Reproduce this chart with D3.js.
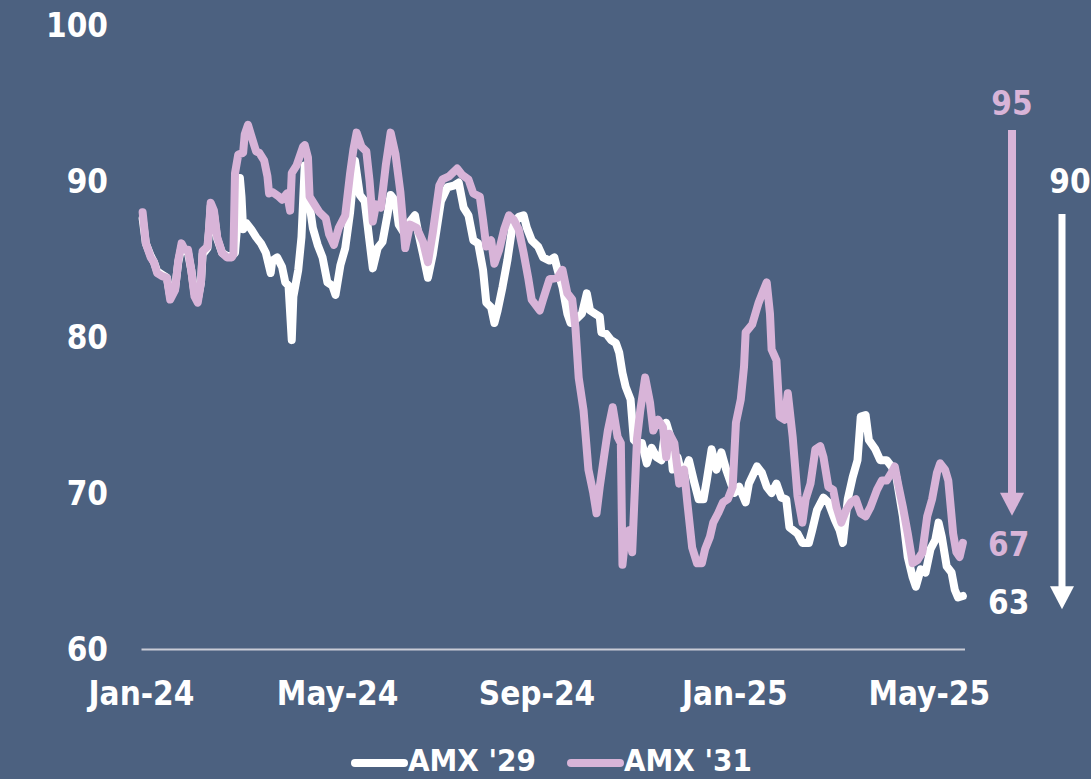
<!DOCTYPE html>
<html>
<head>
<meta charset="utf-8">
<script src="https://cdn.jsdelivr.net/npm/d3@7/dist/d3.min.js"></script>
<style>
  html, body { margin: 0; padding: 0; background: #4c6180; overflow: hidden; }
  svg { display: block; }
  text { font-family: "DejaVu Sans Condensed", "DejaVu Sans", sans-serif; font-weight: bold; }
</style>
</head>
<body>
<svg id="chart" width="1091" height="779"></svg>
<script>
// ---- Data ----------------------------------------------------------
const seriesNames = ["AMX '29", "AMX '31"];

const dates29 = [
  "2024-01-02","2024-01-04","2024-01-07","2024-01-09","2024-01-11","2024-01-14","2024-01-17","2024-01-19","2024-01-22","2024-01-24",
  "2024-01-26","2024-01-28","2024-01-30","2024-02-01","2024-02-03","2024-02-05","2024-02-07","2024-02-08","2024-02-11","2024-02-12",
  "2024-02-13","2024-02-15","2024-02-17","2024-02-20","2024-02-23","2024-02-26","2024-02-28","2024-03-01","2024-03-02","2024-03-03",
  "2024-03-04","2024-03-06","2024-03-09","2024-03-12","2024-03-15","2024-03-18","2024-03-21","2024-03-22","2024-03-25","2024-03-28",
  "2024-03-30","2024-04-01","2024-04-03","2024-04-04","2024-04-07","2024-04-09","2024-04-11","2024-04-13","2024-04-16","2024-04-19",
  "2024-04-22","2024-04-25","2024-04-28","2024-04-30","2024-05-03","2024-05-06","2024-05-09","2024-05-12","2024-05-15","2024-05-18",
  "2024-05-21","2024-05-23","2024-05-26","2024-05-29","2024-06-01","2024-06-03","2024-06-06","2024-06-08","2024-06-11","2024-06-15",
  "2024-06-18","2024-06-20","2024-06-23","2024-06-26","2024-06-29","2024-07-04","2024-07-08","2024-07-12","2024-07-15","2024-07-18",
  "2024-07-21","2024-07-24","2024-07-27","2024-07-30","2024-08-01","2024-08-04","2024-08-06","2024-08-08","2024-08-11","2024-08-14",
  "2024-08-17","2024-08-21","2024-08-24","2024-08-26","2024-08-29","2024-09-02","2024-09-05","2024-09-09","2024-09-12","2024-09-14",
  "2024-09-17","2024-09-20","2024-09-22","2024-09-25","2024-09-29","2024-10-02","2024-10-04","2024-10-07","2024-10-10","2024-10-11",
  "2024-10-14","2024-10-17","2024-10-20","2024-10-22","2024-10-24","2024-10-26","2024-10-29","2024-10-31","2024-11-02","2024-11-05",
  "2024-11-08","2024-11-11","2024-11-14","2024-11-17","2024-11-20","2024-11-22","2024-11-24","2024-11-27","2024-11-30","2024-12-04",
  "2024-12-07","2024-12-10","2024-12-13","2024-12-15","2024-12-18","2024-12-21","2024-12-24","2024-12-27","2025-01-01","2025-01-04",
  "2025-01-08","2025-01-10","2025-01-15","2025-01-18","2025-01-21","2025-01-24","2025-01-27","2025-01-30","2025-02-02","2025-02-04",
  "2025-02-09","2025-02-12","2025-02-16","2025-02-18","2025-02-21","2025-02-25","2025-02-28","2025-03-04","2025-03-07","2025-03-09",
  "2025-03-12","2025-03-15","2025-03-18","2025-03-20","2025-03-23","2025-03-25","2025-03-29","2025-04-01","2025-04-05","2025-04-08",
  "2025-04-11","2025-04-15","2025-04-18","2025-04-21","2025-04-23","2025-04-26","2025-04-29","2025-05-02","2025-05-05","2025-05-07",
  "2025-05-09","2025-05-12","2025-05-15","2025-05-17","2025-05-19","2025-05-22"
];
const values29 = [
  87.6,86.0,85.2,84.8,84.2,84.0,83.8,82.6,83.1,84.8,
  85.8,85.5,85.4,84.3,82.8,82.4,83.5,85.3,85.7,86.8,
  88.4,87.9,86.3,85.4,85.2,85.2,85.4,88.0,90.2,89.0,
  86.9,87.3,86.9,86.4,86.0,85.4,84.1,84.9,85.1,84.5,
  83.5,83.3,79.8,82.6,84.3,86.4,91.0,89.2,87.0,85.9,
  85.1,83.5,83.3,82.7,84.6,85.7,88.0,91.3,89.1,88.7,
  86.1,84.4,85.7,86.1,87.8,89.1,88.7,87.2,86.7,87.4,
  87.8,86.7,85.3,83.8,85.3,88.7,89.6,89.7,89.9,88.3,
  87.8,86.2,86.0,84.3,82.2,81.9,80.9,81.7,83.2,84.9,
  87.0,87.7,87.8,87.0,86.2,85.8,85.1,84.9,85.1,84.3,
  83.2,81.5,80.9,81.1,81.5,82.8,81.7,81.5,81.3,80.3,
  80.2,79.8,79.6,79.0,77.7,76.8,76.0,73.4,73.2,73.2,
  71.9,72.9,72.3,72.1,74.5,73.8,71.5,72.3,71.0,72.1,
  70.8,69.6,69.6,70.8,72.8,71.5,72.6,71.5,70.0,70.4,
  69.4,70.6,71.7,71.3,70.4,70.0,70.6,69.7,69.6,67.8,
  67.4,66.8,66.8,67.6,68.9,69.7,69.4,68.3,67.6,66.8,
  69.6,71.0,72.1,74.9,75.0,73.4,72.8,72.1,72.1,71.7,
  71.0,68.5,65.9,64.6,64.0,65.1,64.9,66.4,67.0,68.1,
  67.2,65.3,64.9,63.8,63.3,63.4
];

const dates31 = [
  "2024-01-02","2024-01-04","2024-01-07","2024-01-09","2024-01-11","2024-01-14","2024-01-17","2024-01-19","2024-01-22","2024-01-24",
  "2024-01-26","2024-01-28","2024-01-30","2024-02-01","2024-02-03","2024-02-05","2024-02-07","2024-02-08","2024-02-11","2024-02-12",
  "2024-02-13","2024-02-15","2024-02-17","2024-02-20","2024-02-23","2024-02-26","2024-02-27","2024-02-28","2024-03-01","2024-03-04",
  "2024-03-05","2024-03-07","2024-03-09","2024-03-12","2024-03-14","2024-03-17","2024-03-19","2024-03-20","2024-03-22","2024-03-26",
  "2024-03-28","2024-03-31","2024-04-02","2024-04-03","2024-04-06","2024-04-10","2024-04-11","2024-04-13","2024-04-14","2024-04-20",
  "2024-04-24","2024-04-26","2024-04-29","2024-05-02","2024-05-06","2024-05-09","2024-05-11","2024-05-13","2024-05-16","2024-05-19",
  "2024-05-21","2024-05-23","2024-05-25","2024-05-28","2024-05-31","2024-06-03","2024-06-06","2024-06-09","2024-06-12","2024-06-15",
  "2024-06-19","2024-06-23","2024-06-26","2024-06-29","2024-07-03","2024-07-05","2024-07-09","2024-07-14","2024-07-17","2024-07-21",
  "2024-07-24","2024-07-28","2024-07-30","2024-08-01","2024-08-04","2024-08-06","2024-08-09","2024-08-12","2024-08-15","2024-08-18",
  "2024-08-21","2024-08-24","2024-08-27","2024-08-29","2024-09-03","2024-09-05","2024-09-09","2024-09-14","2024-09-17","2024-09-20",
  "2024-09-23","2024-09-25","2024-09-27","2024-09-30","2024-10-03","2024-10-06","2024-10-08","2024-10-10","2024-10-13","2024-10-15",
  "2024-10-18","2024-10-21","2024-10-23","2024-10-24","2024-10-26","2024-10-28","2024-10-30","2024-11-02","2024-11-04","2024-11-07",
  "2024-11-10","2024-11-12","2024-11-15","2024-11-18","2024-11-20","2024-11-22","2024-11-25","2024-11-28","2024-12-01","2024-12-03",
  "2024-12-06","2024-12-09","2024-12-12","2024-12-14","2024-12-17","2024-12-19","2024-12-22","2024-12-25","2024-12-28","2024-12-31",
  "2025-01-02","2025-01-05","2025-01-07","2025-01-08","2025-01-12","2025-01-14","2025-01-16","2025-01-19","2025-01-21","2025-01-23",
  "2025-01-24","2025-01-27","2025-01-29","2025-02-01","2025-02-03","2025-02-06","2025-02-09","2025-02-12","2025-02-14","2025-02-17",
  "2025-02-20","2025-02-23","2025-02-25","2025-02-28","2025-03-03","2025-03-05","2025-03-08","2025-03-11","2025-03-14","2025-03-17",
  "2025-03-20","2025-03-23","2025-03-26","2025-03-30","2025-04-02","2025-04-05","2025-04-08","2025-04-10","2025-04-12","2025-04-15",
  "2025-04-18","2025-04-21","2025-04-24","2025-04-27","2025-04-30","2025-05-03","2025-05-06","2025-05-08","2025-05-11","2025-05-13",
  "2025-05-16","2025-05-18","2025-05-20","2025-05-22"
];
const values31 = [
  88.0,86.0,85.1,84.8,84.1,83.9,83.8,82.4,83.0,84.9,
  86.0,85.6,85.6,84.3,82.6,82.2,83.5,85.5,85.8,87.0,
  88.6,88.1,86.4,85.4,85.1,85.1,85.3,90.5,91.7,91.8,
  93.0,93.6,92.9,91.9,91.8,91.3,90.3,89.2,89.3,89.0,
  88.8,89.2,88.1,90.5,91.0,92.2,92.3,91.5,89.0,88.0,
  87.6,86.6,85.9,87.0,87.8,90.5,92.0,93.1,92.2,91.9,
  90.0,87.4,88.5,88.3,91.0,93.1,91.7,89.3,85.7,87.2,
  87.0,86.1,84.8,86.7,89.7,90.1,90.3,90.8,90.4,90.1,
  89.2,89.0,87.5,85.8,86.2,84.7,85.6,86.9,87.8,87.5,
  86.9,85.4,83.7,82.4,81.7,82.4,83.7,83.8,84.3,82.8,
  82.4,80.6,77.4,75.3,71.5,70.0,68.7,70.4,72.6,74.0,
  75.5,73.6,73.2,65.4,67.4,67.6,66.2,73.5,75.3,77.4,
  75.8,74.0,74.7,74.2,72.3,73.8,73.2,70.6,71.5,69.4,
  66.5,65.5,65.5,66.4,67.2,68.1,68.7,69.4,69.6,70.4,
  74.5,76.0,78.1,80.3,80.8,81.5,82.2,83.0,83.5,81.5,
  79.2,78.5,74.9,74.7,76.4,73.6,69.8,68.1,69.6,70.6,
  72.8,73.0,72.3,70.4,70.2,69.1,68.1,68.9,69.4,69.6,
  68.7,68.5,69.1,70.2,70.8,70.8,71.3,71.7,70.6,69.1,
  67.4,65.5,65.7,66.2,68.5,69.6,71.3,71.9,71.5,70.8,
  67.4,66.2,65.9,66.8
];

const yTicks = [60, 70, 80, 90, 100];
const xTickDates = ["2024-01-01", "2024-05-01", "2024-09-01", "2025-01-01", "2025-05-01"];
const xTickLabels = ["Jan-24", "May-24", "Sep-24", "Jan-25", "May-25"];

// Change over the period for each bond: [start level, latest level]
const change29 = [90, 63];
const change31 = [95, 67];

// ---- Setup ---------------------------------------------------------
const colors = { "AMX '29": "#ffffff", "AMX '31": "#d8b4d8" };
const FONT = "'DejaVu Sans Condensed', 'DejaVu Sans', sans-serif";
const FS = 33;
const parse = d3.timeParse("%Y-%m-%d");

const svg = d3.select("#chart");
const x = d3.scaleTime()
  .domain([parse("2024-01-01"), parse("2025-05-23")])
  .range([141, 964.5]);
const y = d3.scaleLinear().domain([60, 100]).range([649, 25]);

// Y axis labels (no line)
const yAxis = d3.axisLeft(y).tickValues(yTicks).tickSize(0).tickPadding(0);
svg.append("g")
  .attr("transform", "translate(108,0)")
  .call(yAxis)
  .call(g => g.select(".domain").remove())
  .call(g => g.selectAll("text")
    .attr("fill", "#ffffff")
    .attr("font-size", FS)
    .attr("dy", "0.36em")
    .style("font-family", FONT)
    .style("font-weight", "bold"));

// X axis: baseline and month labels
const xAxis = d3.axisBottom(x)
  .tickValues(xTickDates.map(parse))
  .tickFormat((d, i) => xTickLabels[i])
  .tickSize(0)
  .tickPadding(0);
svg.append("g")
  .attr("transform", `translate(0,${y(60)})`)
  .call(xAxis)
  .call(g => g.select(".domain").attr("stroke", "#c9ccd6").attr("stroke-width", 2))
  .call(g => g.selectAll("text")
    .attr("fill", "#ffffff")
    .attr("font-size", FS)
    .attr("y", 44)
    .attr("dy", "0.36em")
    .style("font-family", FONT)
    .style("font-weight", "bold"));

// ---- Lines ---------------------------------------------------------
const series = [
  { name: seriesNames[0], points: dates29.map((d, i) => ({ date: parse(d), value: values29[i] })) },
  { name: seriesNames[1], points: dates31.map((d, i) => ({ date: parse(d), value: values31[i] })) }
];

const line = d3.line().x(d => x(d.date)).y(d => y(d.value));

svg.append("g").selectAll("path")
  .data(series)
  .join("path")
  .attr("d", d => line(d.points))
  .attr("fill", "none")
  .attr("stroke", d => colors[d.name])
  .attr("stroke-width", 8)
  .attr("stroke-linejoin", "round")
  .attr("stroke-linecap", "round");

// ---- Change annotations (arrows) ----------------------------------
function arrow(xPos, y0, y1, color, width) {
  const g = svg.append("g");
  g.append("line")
    .attr("x1", xPos).attr("x2", xPos)
    .attr("y1", y0).attr("y2", y1 - 20)
    .attr("stroke", color).attr("stroke-width", width);
  g.append("path")
    .attr("d", `M${xPos - 12},${y1 - 23} L${xPos + 12},${y1 - 23} L${xPos},${y1} Z`)
    .attr("fill", color);
}

const ann = svg.append("g").attr("font-size", FS);

// AMX '31: label at start level, arrow down to latest level
ann.append("text")
  .attr("x", 1012).attr("y", y(change31[0])).attr("dy", "0.36em")
  .attr("text-anchor", "middle").attr("fill", colors["AMX '31"])
  .text(change31[0]);
arrow(1012, y(change31[0]) + 27, y(change31[1]) - 24, colors["AMX '31"], 8);
ann.append("text")
  .attr("x", 988).attr("y", y(change31[1]) + 4).attr("dy", "0.36em")
  .attr("fill", colors["AMX '31"])
  .text(change31[1]);

// AMX '29
ann.append("text")
  .attr("x", 1070).attr("y", y(change29[0])).attr("dy", "0.36em")
  .attr("text-anchor", "middle").attr("fill", colors["AMX '29"])
  .text(change29[0]);
arrow(1062, y(change29[0]) + 33, y(change29[1]) + 7, colors["AMX '29"], 7);
ann.append("text")
  .attr("x", 988).attr("y", y(change29[1])).attr("dy", "0.36em")
  .attr("fill", colors["AMX '29"])
  .text(change29[1]);

// ---- Legend --------------------------------------------------------
const legendItems = [
  { name: seriesNames[0], x: 352 },
  { name: seriesNames[1], x: 568 }
];
const legend = svg.append("g").attr("transform", "translate(0,763)");
const li = legend.selectAll("g").data(legendItems).join("g")
  .attr("transform", d => `translate(${d.x},0)`);
li.append("line")
  .attr("x1", 3).attr("x2", 52).attr("y1", 0).attr("y2", 0)
  .attr("stroke", d => colors[d.name])
  .attr("stroke-width", 8)
  .attr("stroke-linecap", "round");
li.append("text")
  .attr("x", 56).attr("y", 8)
  .attr("font-size", 31)
  .attr("fill", "#ffffff")
  .text(d => d.name);
</script>
</body>
</html>
